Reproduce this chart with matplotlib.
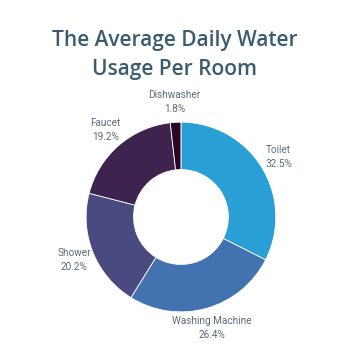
import matplotlib
matplotlib.use("Agg")
import matplotlib.pyplot as plt

rooms = ["Toilet", "Washing Machine", "Shower", "Faucet", "Dishwasher"]
usage = [32.5, 26.4, 20.2, 19.2, 1.8]
colors = ["#2a9fd6", "#4372b0", "#484a80", "#3e234f", "#2a0624"]

plt.rcParams["font.family"] = ["Roboto", "DejaVu Sans"]

fig = plt.figure(figsize=(3.5, 3.5), dpi=100)
fig.patch.set_facecolor("white")

# pie placed by hand so it sits under the title like the original
cx, cy, r = 0.517, 0.38, 0.271
ax = fig.add_axes([cx - r, cy - r, 2 * r, 2 * r])

labels = [f"{n}\n{v}%" for n, v in zip(rooms, usage)]
wedges, texts = ax.pie(usage, labels=labels, colors=colors, startangle=90,
                       counterclock=False, radius=1, labeldistance=1.21,
                       wedgeprops=dict(width=0.5, edgecolor="white", linewidth=0.6),
                       textprops=dict(fontsize=7.2, color="#5b6b7b"))
for t in texts:
    t.set_ha("center")
    t.set_va("center")
    t.set_linespacing(1.5)
ax.set_xlim(-1, 1)
ax.set_ylim(-1, 1)
ax.set_aspect("equal")
ax.axis("off")

fig.text(0.5, 0.843, "The Average Daily Water\nUsage Per Room", ha="center", va="center",
         fontsize=15, fontweight="semibold", family=["Open Sans", "DejaVu Sans"],
         color="#3b5b6e", linespacing=1.45)

fig.savefig("out.png", dpi=100, facecolor="white")
